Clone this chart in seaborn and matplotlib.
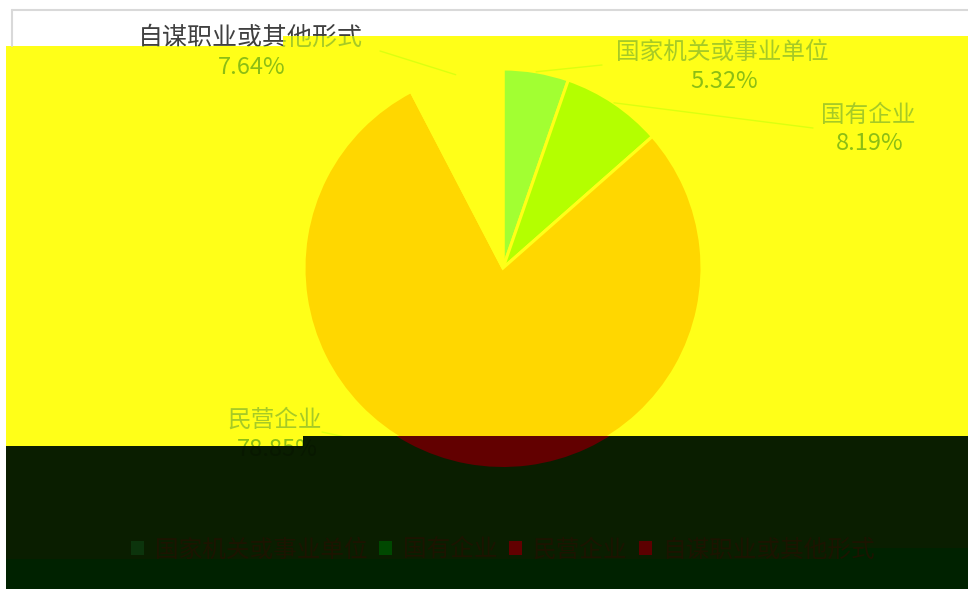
import numpy as np
import seaborn as sns
import matplotlib.pyplot as plt
from matplotlib.patches import Polygon
from matplotlib.transforms import Bbox, TransformedBbox

# data
categories = ["国家机关或事业单位", "国有企业", "民营企业", "自谋职业或其他形式"]
shares = [5.32, 8.19, 78.85, 7.64]

sns.set_theme(style="white")
plt.rcParams["font.family"] = ["Noto Sans CJK SC", "DejaVu Sans"]
FONT = ["Noto Sans CJK SC", "DejaVu Sans"]

# colours: upper (yellow) band and lower (dark) band
top_colors = ["#a2ff32", "#b4ff00", "#ffd700", "#ffff18"]
low_colors = ["#0c340c", "#004800", "#620000", "#5c0000"]

fig = plt.figure(figsize=(9.68, 5.89), dpi=100)
ax = fig.add_axes([0, 0, 1, 1])
ax.set_xlim(0, 968)
ax.set_ylim(589, 0)
ax.axis("off")

# frame of the original card
ax.plot([12, 968], [10, 10], color="#d9d9d9", lw=1.5)
ax.plot([12, 12], [10, 46], color="#d9d9d9", lw=1.5)

# the glitched bands (as rectangles x0, y0, x1, y1)
white_reg = [(0, 0, 968, 36), (0, 36, 283, 46)]
yellow_reg = [(6, 46, 303, 446), (303, 36, 968, 436), (283, 36, 303, 46)]
dark_reg = [(6, 446, 303, 589), (303, 436, 968, 589)]
strip = [(6, 559), (837, 559), (837, 548), (968, 548), (968, 589), (6, 589)]
for x0, y0, x1, y1 in yellow_reg:
    ax.fill_between([x0, x1], y0, y1, color="#ffff18", lw=0, zorder=0)
for x0, y0, x1, y1 in dark_reg:
    ax.fill_between([x0, x1], y0, y1, color="#0a1e00", lw=0, zorder=0)
ax.add_patch(Polygon(strip, closed=True, fc="#002200", ec="none", zorder=0))


def box(rect):
    x0, y0, x1, y1 = rect
    return TransformedBbox(Bbox([[x0, y0], [x1, y1]]), ax.transData)


cx, cy, r = 503, 268, 199


def draw_pie(colors, rect, edge):
    ws, _ = ax.pie(shares, colors=colors, startangle=-90, counterclock=True,
                   center=(cx, cy), radius=r, frame=True,
                   wedgeprops=dict(edgecolor=edge, linewidth=2.2 if edge != "none" else 0))
    for w in ws:
        w.set_clip_box(box(rect))
        w.set_clip_path(None)
        w.set_clip_on(True)
    return ws


for rect in yellow_reg:
    top_w = draw_pie(top_colors, rect, "#ffff18")
for rect in dark_reg:
    low_w = draw_pie(low_colors, rect, "none")

ax.set_xlim(0, 968)
ax.set_ylim(589, 0)
ax.axis("off")

# labels: leader end point, text centre
label_pos = [((602, 65), (722, 52)),
             ((813, 128), (868, 115)),
             ((322, 432), (275, 420)),
             ((380, 51), (250, 38))]


def two_tone(x, y, s, c_top, c_low, c_white, size=17):
    for col, regs in ((c_top, yellow_reg), (c_low, dark_reg), (c_white, white_reg)):
        for rect in regs:
            t = ax.text(x, y, s, ha="center", va="center", fontsize=size, color=col,
                        family=FONT, zorder=5)
            t.set_clip_box(box(rect))
            t.set_clip_path(None)
            t.set_clip_on(True)


for i, (w, name, val, (end, txt)) in enumerate(zip(top_w, categories, shares, label_pos)):
    mid = np.deg2rad((w.theta1 + w.theta2) / 2)
    sx, sy = cx + r * np.cos(mid), cy + r * np.sin(mid)
    for rect in yellow_reg:
        ln, = ax.plot([sx, end[0]], [sy, end[1]], color="#dcff10", lw=1, zorder=4)
        ln.set_clip_box(box(rect))
        ln.set_clip_path(None)
    size = 18 if i == 3 else 17
    two_tone(txt[0], txt[1], name, "#a6ca26", "#081800", "#404040", size)
    two_tone(txt[0] + 2, txt[1] + 29, f"{val:.2f}%", "#8cbe14", "#081800", "#404040")

leg = ax.legend(handles=low_w, labels=categories, loc="center",
                bbox_to_anchor=(503 / 968, 1 - 550 / 589), ncol=4, frameon=False,
                prop=dict(family=FONT, size=17), handlelength=0.55, handleheight=0.55,
                handletextpad=0.45, columnspacing=0.5, labelcolor="#1c1400")

fig.savefig("out.png", dpi=100)
